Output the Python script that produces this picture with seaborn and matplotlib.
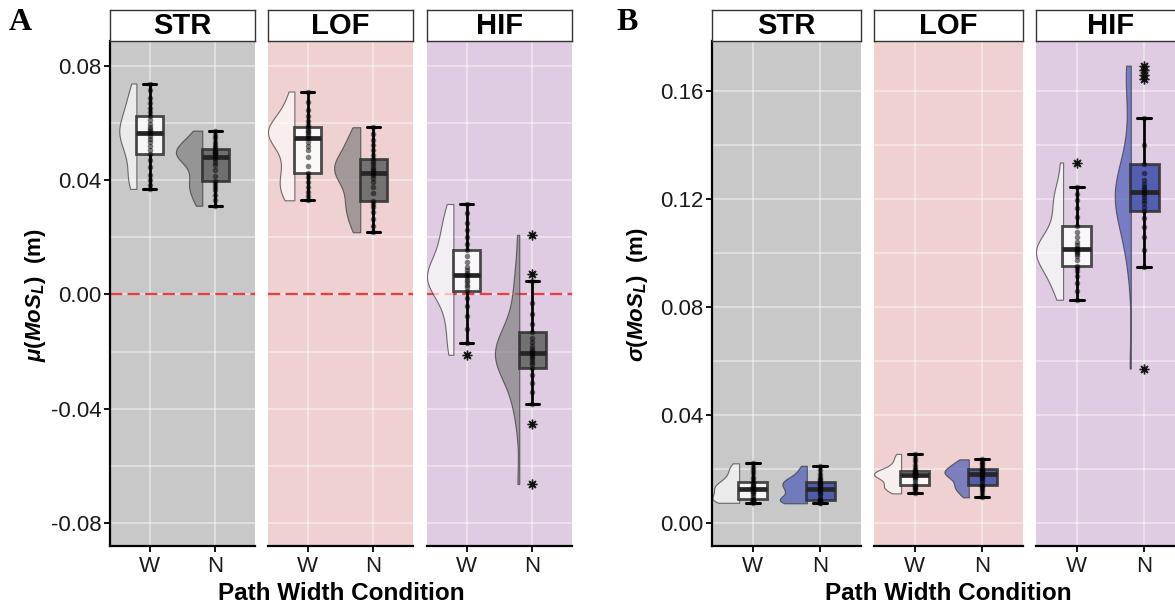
import numpy as np
import pandas as pd
import matplotlib
matplotlib.use("Agg")
import matplotlib.pyplot as plt
from matplotlib.ticker import MultipleLocator
import seaborn as sns

# ---------------- data ----------------
widths = ["W", "N"]
conditions = ["STR", "LOF", "HIF"]

# Panel A: mean MoS_L (m)
a_str_w = [0.0370, 0.0385, 0.0400, 0.0420, 0.0445, 0.0470, 0.0492, 0.0505, 0.0520, 0.0535, 0.0545, 0.0555, 0.0565,
           0.0572, 0.0580, 0.0588, 0.0598, 0.0610, 0.0625, 0.0640, 0.0655, 0.0670, 0.0690, 0.0715, 0.0739]
a_str_n = [0.0311, 0.0330, 0.0350, 0.0365, 0.0378, 0.0388, 0.0398, 0.0415, 0.0435, 0.0452, 0.0465, 0.0475, 0.0483,
           0.0488, 0.0492, 0.0496, 0.0500, 0.0504, 0.0509, 0.0516, 0.0525, 0.0535, 0.0548, 0.0560, 0.0574]
a_lof_w = [0.0330, 0.0345, 0.0360, 0.0378, 0.0395, 0.0410, 0.0424, 0.0450, 0.0480, 0.0505, 0.0520, 0.0535, 0.0547,
           0.0555, 0.0562, 0.0568, 0.0574, 0.0580, 0.0586, 0.0595, 0.0608, 0.0625, 0.0645, 0.0675, 0.0711]
a_lof_n = [0.0218, 0.0240, 0.0265, 0.0288, 0.0305, 0.0318, 0.0328, 0.0355, 0.0378, 0.0395, 0.0408, 0.0418, 0.0427,
           0.0433, 0.0440, 0.0448, 0.0456, 0.0465, 0.0475, 0.0490, 0.0505, 0.0522, 0.0540, 0.0562, 0.0586]
a_hif_w = [-0.0211, -0.0171, -0.0120, -0.0075, -0.0040, -0.0012, 0.0014, 0.0025, 0.0035, 0.0045, 0.0052, 0.0060,
           0.0067, 0.0075, 0.0085, 0.0098, 0.0115, 0.0135, 0.0157, 0.0178, 0.0200, 0.0225, 0.0252, 0.0285, 0.0317]
a_hif_n = [-0.0664, -0.0455, -0.0384, -0.0340, -0.0310, -0.0282, -0.0259, -0.0245, -0.0235, -0.0226, -0.0220,
           -0.0212, -0.0205, -0.0198, -0.0190, -0.0180, -0.0168, -0.0152, -0.0133, -0.0105, -0.0070, -0.0030,
           0.0046, 0.0072, 0.0209]

# Panel B: SD of MoS_L (m)
b_str_w = [0.0075, 0.0078, 0.0080, 0.0083, 0.0085, 0.0087, 0.0088, 0.0095, 0.0103, 0.0110, 0.0115, 0.0120, 0.0125,
           0.0130, 0.0134, 0.0138, 0.0142, 0.0147, 0.0153, 0.0162, 0.0172, 0.0185, 0.0196, 0.0208, 0.0221]
b_str_n = [0.0073, 0.0076, 0.0078, 0.0080, 0.0082, 0.0083, 0.0084, 0.0090, 0.0098, 0.0106, 0.0113, 0.0120, 0.0125,
           0.0130, 0.0136, 0.0142, 0.0146, 0.0150, 0.0153, 0.0158, 0.0163, 0.0170, 0.0182, 0.0197, 0.0212]
b_lof_w = [0.0110, 0.0118, 0.0125, 0.0130, 0.0135, 0.0138, 0.0140, 0.0150, 0.0160, 0.0167, 0.0172, 0.0175, 0.0178,
           0.0180, 0.0182, 0.0184, 0.0186, 0.0188, 0.0191, 0.0197, 0.0205, 0.0215, 0.0228, 0.0242, 0.0256]
b_lof_n = [0.0095, 0.0108, 0.0118, 0.0126, 0.0132, 0.0137, 0.0142, 0.0152, 0.0160, 0.0167, 0.0172, 0.0176, 0.0180,
           0.0184, 0.0187, 0.0190, 0.0193, 0.0196, 0.0199, 0.0205, 0.0211, 0.0217, 0.0223, 0.0230, 0.0236]
b_hif_w = [0.0827, 0.0860, 0.0890, 0.0915, 0.0932, 0.0945, 0.0953, 0.0975, 0.0990, 0.0998, 0.1004, 0.1009, 0.1014,
           0.1020, 0.1028, 0.1040, 0.1058, 0.1078, 0.1100, 0.1135, 0.1168, 0.1195, 0.1218, 0.1246, 0.1335]
b_hif_n = [0.0572, 0.0949, 0.1010, 0.1060, 0.1095, 0.1130, 0.1156, 0.1170, 0.1185, 0.1198, 0.1208, 0.1218, 0.1227,
           0.1236, 0.1245, 0.1256, 0.1270, 0.1295, 0.1328, 0.1400, 0.1501, 0.1644, 0.1659, 0.1678, 0.1694]

a_yticks = [-0.08, -0.04, 0.00, 0.04, 0.08]
b_yticks = [0.00, 0.04, 0.08, 0.12, 0.16]

# ---------------- style ----------------
sns.set_style("white")
plt.rcParams["font.family"] = ["Liberation Sans", "DejaVu Sans"]
plt.rcParams["text.color"] = "black"
plt.rcParams["axes.labelcolor"] = "black"
plt.rcParams["xtick.color"] = "black"
plt.rcParams["ytick.color"] = "black"
plt.rcParams["mathtext.fontset"] = "custom"
plt.rcParams["mathtext.it"] = "Liberation Sans:italic:bold"
plt.rcParams["mathtext.rm"] = "Liberation Sans:bold"
plt.rcParams["mathtext.bf"] = "Liberation Sans:bold"

W_PX, H_PX = 1175, 607
fig = plt.figure(figsize=(W_PX / 100, H_PX / 100), dpi=100)

panel_bg = {"STR": "#C8C8C8", "LOF": "#EED1D0", "HIF": "#DFCCE2"}
PLOT_TOP, PLOT_BOT = 41, 546
STRIP_TOP = 10


def px_axes(x0, x1, y0, y1):
    return fig.add_axes([x0 / W_PX, 1 - y1 / H_PX, (x1 - x0) / W_PX, (y1 - y0) / H_PX])


def draw_facet(ax, cond, w_vals, n_vals, n_violin, n_box, ylim, yticks, first, zero_line):
    df = pd.DataFrame({
        "value": list(w_vals) + list(n_vals),
        "width": ["W"] * len(w_vals) + ["N"] * len(n_vals),
    })
    df["pos"] = df["width"].map({"W": 0.0, "N": 1.0})
    df["vpos"] = df["pos"] - 0.40

    ax.set_facecolor(panel_bg[cond])
    if zero_line:
        ax.axhline(0, color="#EE3B3B", lw=1.6, ls=(0, (5.5, 2.4)), zorder=1.5)

    sns.violinplot(data=df, x="vpos", y="value", hue="width", hue_order=["W", "_", "N"],
                   palette={"W": "white", "_": "white", "N": n_violin}, native_scale=True,
                   split=True, dodge=False, inner=None, cut=0, bw_adjust=0.8,
                   density_norm="area", common_norm=True, width=0.40, saturation=1,
                   linecolor="#2a2a2a", linewidth=0.8, alpha=0.65, legend=False, ax=ax, zorder=2)

    sns.boxplot(data=df, x="pos", y="value", hue="width", hue_order=["W", "N"],
                palette={"W": "white", "N": n_box}, native_scale=True, dodge=False,
                width=0.42, saturation=1, linecolor="#2e2e2e", linewidth=2.0, whis=1.5,
                flierprops=dict(marker=(8, 2, 0), markersize=7, markeredgecolor="#222222",
                                markerfacecolor="#222222", markeredgewidth=1.0),
                medianprops=dict(color="#262626", linewidth=3.4),
                whiskerprops=dict(color="black", linewidth=2.0),
                capprops=dict(color="black", linewidth=2.2),
                boxprops=dict(alpha=0.85),
                legend=False, ax=ax)

    sns.stripplot(data=df, x="pos", y="value", native_scale=True, jitter=False,
                  color="black", size=4.0, alpha=0.5, linewidth=0, ax=ax, zorder=4)

    ax.set_xlim(-0.6, 1.6)
    ax.set_ylim(*ylim)
    ax.set_xticks([0, 1])
    ax.set_xticklabels(widths)
    ax.set_yticks(yticks)
    ax.set_yticklabels([f"{t:.2f}" for t in yticks])
    ax.yaxis.set_minor_locator(MultipleLocator(0.02))
    ax.set_axisbelow(True)
    ax.grid(True, which="both", axis="y", color="white", alpha=0.45, lw=1.3)
    ax.grid(True, which="major", axis="x", color="white", alpha=0.45, lw=1.3)
    ax.set_xlabel("")
    ax.set_ylabel("")
    for s in ["top", "right"]:
        ax.spines[s].set_visible(False)
    ax.spines["bottom"].set_color("black")
    ax.spines["bottom"].set_linewidth(1.6)
    ax.spines["left"].set_color("black")
    ax.spines["left"].set_linewidth(1.6)
    ax.spines["left"].set_visible(first)
    ax.tick_params(which="minor", length=0)
    ax.tick_params(axis="x", which="major", length=4, width=1.3, color="black",
                   labelsize=16, labelcolor="#1a1a1a", pad=3, bottom=True)
    if first:
        ax.tick_params(axis="y", which="major", length=4, width=1.3, color="black",
                       labelsize=16, labelcolor="#1a1a1a", pad=2, left=True)
    else:
        ax.tick_params(axis="y", which="major", left=False, labelleft=False)


def draw_strip(x0, x1, text):
    sax = px_axes(x0, x1, STRIP_TOP, PLOT_TOP)
    sax.set_facecolor("white")
    sax.set_xticks([])
    sax.set_yticks([])
    for s in sax.spines.values():
        s.set_color("#333333")
        s.set_linewidth(1.0)
    sax.text(0.5, 0.47, text, ha="center", va="center", fontsize=21, fontweight="bold",
             color="black", transform=sax.transAxes)


# Panel A
a_x = [(110, 255), (268, 413), (427, 572)]
a_data = [(a_str_w, a_str_n), (a_lof_w, a_lof_n), (a_hif_w, a_hif_n)]
for i, (cond, (x0, x1), (wv, nv)) in enumerate(zip(conditions, a_x, a_data)):
    ax = px_axes(x0, x1, PLOT_TOP, PLOT_BOT)
    draw_facet(ax, cond, wv, nv, "#7a7a7a", "#606060", (-0.0881, 0.0888), a_yticks,
               first=(i == 0), zero_line=True)
    draw_strip(x0, x1, cond)

# Panel B
b_x = [(712, 861), (874, 1023), (1036, 1185)]
b_data = [(b_str_w, b_str_n), (b_lof_w, b_lof_n), (b_hif_w, b_hif_n)]
for i, (cond, (x0, x1), (wv, nv)) in enumerate(zip(conditions, b_x, b_data)):
    ax = px_axes(x0, x1, PLOT_TOP, PLOT_BOT)
    draw_facet(ax, cond, wv, nv, "#4052B5", "#3A4BA8", (-0.0085, 0.1785), b_yticks,
               first=(i == 0), zero_line=False)
    draw_strip(x0, x1, cond)

# labels
fig.text(20 / W_PX, 1 - 22 / H_PX, "A", fontfamily="Liberation Serif", fontweight="bold",
         fontsize=23, ha="center", va="center")
fig.text(627 / W_PX, 1 - 22 / H_PX, "B", fontfamily="Liberation Serif", fontweight="bold",
         fontsize=23, ha="center", va="center")
fig.text(341 / W_PX, 1 - 600 / H_PX, "Path Width Condition", fontsize=17.5, fontweight="bold",
         ha="center", va="baseline")
fig.text(948 / W_PX, 1 - 600 / H_PX, "Path Width Condition", fontsize=17.5, fontweight="bold",
         ha="center", va="baseline")
fig.text(36 / W_PX, 1 - 295 / H_PX, r"$\mu(MoS_L)$  (m)", fontsize=16, fontweight="bold",
         rotation=90, ha="center", va="center")
fig.text(638 / W_PX, 1 - 295 / H_PX, r"$\sigma(MoS_L)$  (m)", fontsize=16, fontweight="bold",
         rotation=90, ha="center", va="center")

fig.savefig("out.png", dpi=100)
